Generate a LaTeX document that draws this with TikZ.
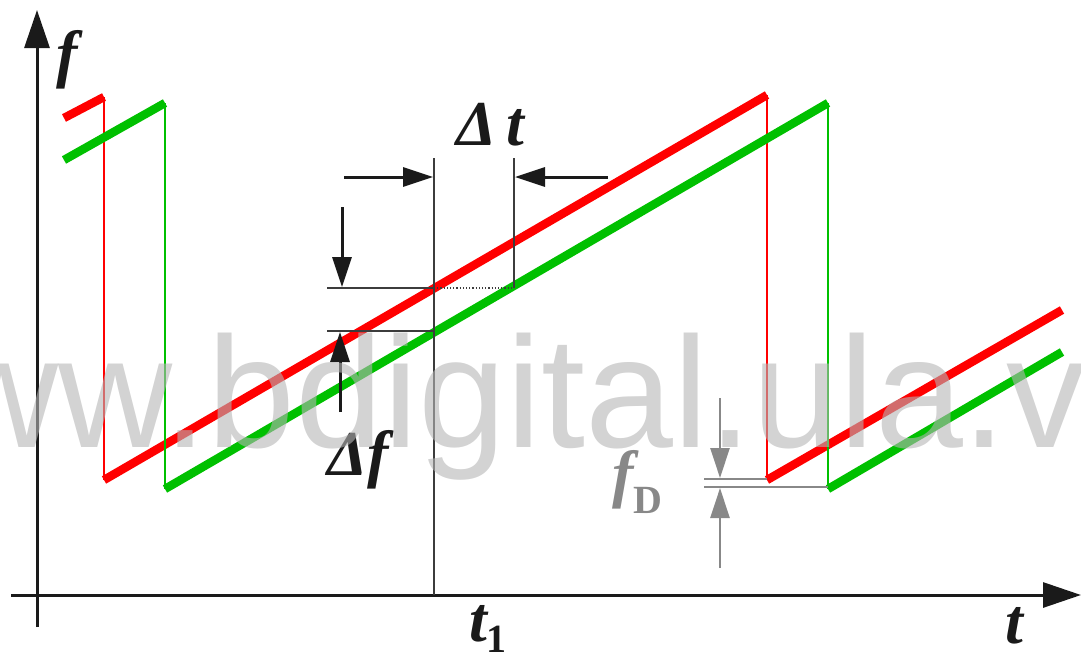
\documentclass[tikz,border=0pt]{standalone}
\usepackage{fontspec}
\setmainfont{Liberation Serif}
\newfontfamily\wmfont{Liberation Sans}
\usetikzlibrary{arrows.meta}
\definecolor{cTx}{HTML}{FF0000}
\definecolor{cRx}{HTML}{00C000}
\definecolor{cInk}{HTML}{1A1A1A}
\definecolor{cDop}{HTML}{888888}
\tikzset{
  ax/.style    ={draw=cInk,line width=3pt,-{Triangle[length=38pt,width=25pt]}},
  ramp/.style  ={line width=8.5pt},
  drop/.style  ={line width=1.4pt},
  guide/.style ={draw=cInk!85,line width=1.2pt},
  dim/.style   ={draw=cInk,line width=3pt,-{Triangle[length=30pt,width=19pt]}},
  dop/.style   ={draw=cDop,line width=2.6pt,-{Triangle[length=30pt,width=19pt]}},
  lab/.style   ={font=\fontsize{64}{66}\selectfont\bfseries\itshape,inner sep=0pt,
                 anchor=base west,text=cInk},
  wm/.style    ={font=\wmfont\fontsize{158}{158}\selectfont,inner sep=0pt,
                 anchor=base west,text=black!29,text opacity=0.6},
}

\begin{document}
\begin{tikzpicture}[x=1pt,y=-1pt]
\useasboundingbox (0,0) rectangle (1081,654);

% ---- axes ----------------------------------------------------------------
\draw[ax] (37,627) -- (37,10);
\draw[ax] (11,595) -- (1081,595);
\node[lab] (fax) at (56,75) {f};
\node[lab] (tax) at (1005,643) {t};

% ---- transmitted (red) and received (green) sweeps -----------------------
\coordinate (r0) at (64,118);  \coordinate (r1) at (104,97);
\coordinate (r2) at (104,480); \coordinate (r3) at (767,95);
\coordinate (r4) at (767,480); \coordinate (r5) at (1062,310);
\coordinate (g0) at (64,160);  \coordinate (g1) at (165,103);
\coordinate (g2) at (165,489); \coordinate (g3) at (828,103);
\coordinate (g4) at (828,489); \coordinate (g5) at (1062,352);
\draw[cTx,ramp] (r0) -- (r1) (r2) -- (r3) (r4) -- (r5);
\draw[cTx,drop] (r1) -- (r2) (r3) -- (r4);
\draw[cRx,ramp] (g0) -- (g1) (g2) -- (g3) (g4) -- (g5);
\draw[cRx,drop] (g1) -- (g2) (g3) -- (g4);

% ---- delta t / delta f ---------------------------------------------------
\coordinate (t1) at (434,595);
\coordinate (dtL) at (434,158);
\coordinate (dtR) at (514,158);
\coordinate (fhi) at (434,288);
\coordinate (flo) at (434,331);
\draw[guide] (dtL) -- (t1);
\draw[guide] (dtR) -- (dtR |- fhi);
\draw[guide] (327,288) -- (fhi);
\draw[guide,dotted] (fhi) -- (dtR |- fhi);
\draw[guide] (327,331) -- (flo);
\draw[dim] (344,177) -- (433,177);
\draw[dim] (608,177) -- (515,177);
\draw[dim] (342,207) -- (342,287);
\draw[dim] (340,412) -- (340,332);
\node[lab] (dt) at (456,145) {Δ\,t};
\node[lab] (df) at (327,475) {Δf};
\node[lab] (t1lab) at (469,641)
  {t\raisebox{-11pt}{\fontsize{40}{40}\selectfont\upshape 1}};

% ---- Doppler shift ---------------------------------------------------------
\draw[cDop,line width=1.3pt] (704,479) -- (r4 |- 704,479) (704,487) -- (g4 |- 704,487);
\draw[dop] (720,398) -- (720,478);
\draw[dop] (720,568) -- (720,488);
\node[lab,text=cDop] (fd) at (612,495)
  {f\raisebox{-18pt}{\fontsize{40}{40}\selectfont\upshape D}};

% ---- watermark -------------------------------------------------------------
\begin{scope}
\clip (0,0) rectangle (1081,654);
\node[wm] (mark) at (-170,447) {www.bdigital.ula.ve};
\end{scope}
\end{tikzpicture}
\end{document}
